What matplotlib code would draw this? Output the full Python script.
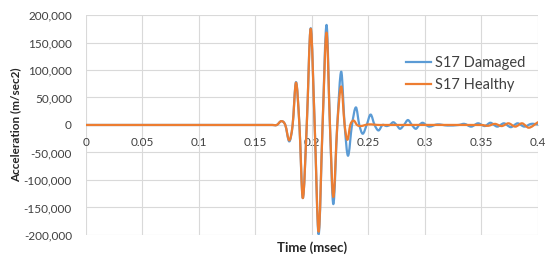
import matplotlib.pyplot as plt
from matplotlib.path import Path
from matplotlib.patches import PathPatch
from matplotlib.lines import Line2D
from matplotlib.ticker import FuncFormatter

# values (time in msec, acceleration in m/sec2)
t_damaged = [0.0, 0.165, 0.169, 0.173, 0.1765,
             0.180, 0.183, 0.186, 0.189, 0.192,
             0.1955, 0.199, 0.2025, 0.206, 0.2095,
             0.213, 0.216, 0.219, 0.2225, 0.226,
             0.229, 0.232, 0.2355, 0.239, 0.242,
             0.245, 0.2485, 0.252, 0.2555, 0.259,
             0.2625, 0.266, 0.269, 0.272, 0.275,
             0.278, 0.2815, 0.285, 0.2885, 0.292,
             0.295, 0.298, 0.301, 0.304, 0.311,
             0.32, 0.33, 0.335, 0.341, 0.347,
             0.353, 0.358, 0.364, 0.370, 0.376,
             0.382, 0.388, 0.394, 0.4]
acc_damaged = [0, 0, 0, 7000, 0,
               -30000, 0, 78000, 0, -133000,
               0, 176000, 0, -199000, 0,
               182000, 0, -144000, 0, 97000,
               0, -56000, 0, 32000, 0,
               -16000, 0, 19000, 0, -10000,
               0, -2000, 0, 5000, 0,
               -7000, 0, 9000, 0, -7000,
               0, 4000, 0, -3000, 1000,
               -1000, 0, 2000, -3000, 3000,
               -2000, 4000, -3000, 3000, -4000,
               3000, -3000, 2000, 1000]

t_healthy = [0.0, 0.165, 0.169, 0.173, 0.1765,
             0.180, 0.183, 0.186, 0.189, 0.192,
             0.1955, 0.199, 0.2025, 0.206, 0.2095,
             0.213, 0.216, 0.219, 0.2225, 0.226,
             0.229, 0.2315, 0.234, 0.237, 0.240,
             0.243, 0.25, 0.26, 0.35, 0.356,
             0.362, 0.368, 0.374, 0.380, 0.386,
             0.392, 0.4]
acc_healthy = [0, 0, 0, 7000, 0,
               -28000, 0, 77000, 0, -133000,
               0, 175000, 0, -194000, 0,
               168000, 0, -131000, 0, 70000,
               0, -27000, 0, 8000, 0,
               -2000, 1000, 0, 0, -1500,
               2000, -2000, 3000, -3000, 3000,
               -5000, 5000]

x_ticks = [0, 0.05, 0.1, 0.15, 0.2, 0.25, 0.3, 0.35, 0.4]
y_ticks = [-200000, -150000, -100000, -50000, 0, 50000, 100000, 150000, 200000]

BLUE = '#5B9BD5'
ORANGE = '#ED7D31'


def smooth_path(t, a):
    # cubic hermite through the points, drawn as bezier segments (like Excel's smoothed line)
    n = len(t)
    slopes = []
    for i in range(n):
        lo = max(i - 1, 0)
        hi = min(i + 1, n - 1)
        slopes.append((a[hi] - a[lo]) / (t[hi] - t[lo]))
    verts = [(t[0], a[0])]
    codes = [Path.MOVETO]
    for i in range(n - 1):
        h = t[i + 1] - t[i]
        verts.append((t[i] + h / 3, a[i] + slopes[i] * h / 3))
        verts.append((t[i + 1] - h / 3, a[i + 1] - slopes[i + 1] * h / 3))
        verts.append((t[i + 1], a[i + 1]))
        codes += [Path.CURVE4] * 3
    return Path(verts, codes)


plt.rcParams['font.family'] = ['Lato', 'DejaVu Sans']

fig = plt.figure(figsize=(5.5, 2.59), dpi=100)
ax = fig.add_axes([0.156, 0.093, 0.822, 0.849])

ax.add_patch(PathPatch(smooth_path(t_damaged, acc_damaged), fill=False,
                       edgecolor=BLUE, lw=1.6, capstyle='round', joinstyle='round', zorder=3))
ax.add_patch(PathPatch(smooth_path(t_healthy, acc_healthy), fill=False,
                       edgecolor=ORANGE, lw=1.6, capstyle='round', joinstyle='round', zorder=4))

ax.set_xlim(0, 0.4)
ax.set_ylim(-200000, 200000)
ax.set_xticks(x_ticks)
ax.set_yticks(y_ticks)
ax.xaxis.set_major_formatter(FuncFormatter(lambda v, p: f'{v:g}'))
ax.yaxis.set_major_formatter(FuncFormatter(lambda v, p: f'{v:,.0f}'))
ax.grid(True, color='#D9D9D9', lw=0.8)
ax.set_axisbelow(True)
for s in ['top', 'right', 'left']:
    ax.spines[s].set_visible(False)
ax.spines['bottom'].set_position(('data', 0))
ax.spines['bottom'].set_color('#D9D9D9')
ax.tick_params(length=0, labelsize=8.5, colors='#404040')
ax.tick_params(axis='x', pad=9)
ax.tick_params(axis='y', pad=10)

ax.set_xlabel('Time (msec)', fontsize=9.5, fontweight='bold', color='#262626')
ax.xaxis.set_label_coords(0.5, -0.03)
ax.set_ylabel('Acceleration (m/sec2)', fontsize=8.5, fontweight='bold', color='#262626')
ax.yaxis.set_label_coords(-0.142, 0.5)

handles = [Line2D([], [], color=BLUE, lw=1.6), Line2D([], [], color=ORANGE, lw=1.6)]
ax.legend(handles, ['S17 Damaged', 'S17 Healthy'], loc='upper left',
          bbox_to_anchor=(0.68, 0.875), frameon=False, fontsize=10.5,
          handlelength=1.7, handletextpad=0.25, labelspacing=0.55, labelcolor='#404040')

fig.savefig('out.png', dpi=100)
